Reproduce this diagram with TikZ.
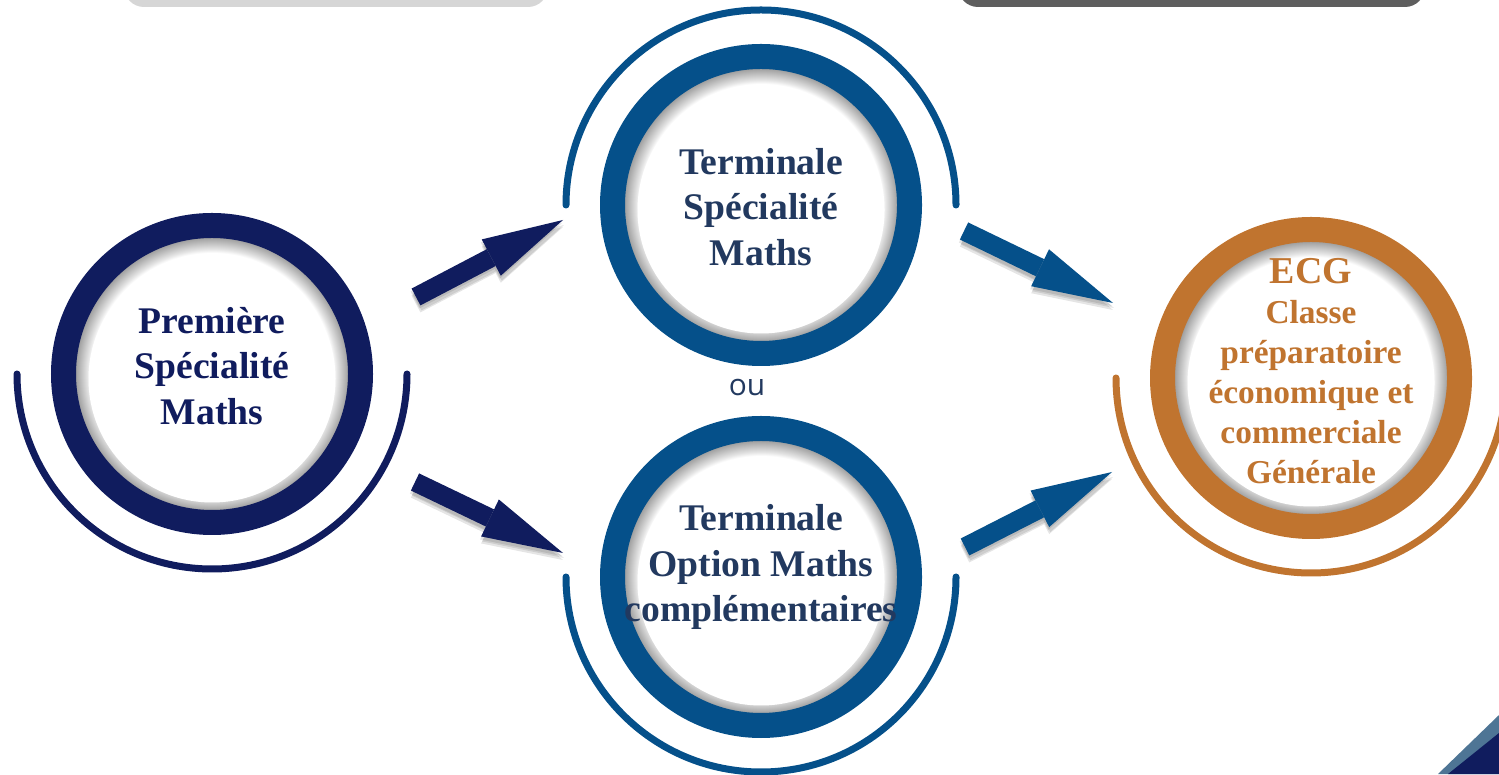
\documentclass[tikz,border=0pt]{standalone}
\usepackage{fontspec}
\setmainfont{Liberation Serif}
\newfontfamily\oufont{Open Sans}
\usetikzlibrary{arrows.meta}

\definecolor{navyprem}{HTML}{101C5E}
\definecolor{blueterm}{HTML}{05508A}
\definecolor{slateterm}{HTML}{22395F}
\definecolor{orangeecg}{HTML}{C0742F}
\definecolor{barlight}{HTML}{D6D6D6}
\definecolor{bardark}{HTML}{5E5E5E}
\definecolor{cornerblue}{HTML}{4E7595}

\pgfdeclareradialshading{innershadow}{\pgfpointorigin}{color(0bp)=(white); color(20.4bp)=(white); color(21bp)=(black!10); color(23bp)=(black!38); color(25bp)=(black!38); color(50bp)=(black!38)}

\begin{document}
\begin{tikzpicture}[
  ring/.style={circle, line width=0.25cm, minimum size=2.97cm, inner sep=0pt, shading=innershadow},
  swoop/.style={line width=0.07cm, line cap=round},
  disclabel/.style={align=center, font=\bfseries\fontsize{10.7}{13}\selectfont},
  blockarrow/.style={line width=0.19cm, -{Triangle[length=0.81cm, width=0.41cm, line width=0pt]}},
  arrowshadow/.style={blockarrow, black, opacity=0.1}
]
  \clip (0,0) rectangle (14.99,7.74);
  \fill[barlight, rounded corners=0.2cm] (1.24,7.67) rectangle (5.48,8.3);
  \fill[bardark, rounded corners=0.2cm] (9.58,7.67) rectangle (14.25,8.3);
  \fill[cornerblue] (14.38,0) -- (14.99,0.59) -- (14.99,0) -- cycle;
  \fill[navyprem] (14.48,0) -- (14.99,0.41) -- (14.99,0) -- cycle;

  % Première
  \node[ring, draw=navyprem] (prem) at (2.12,4.00) {};
  \fill[white] ([yshift=-0.05cm]prem.center) circle (1.235);
  \draw[swoop, navyprem] (prem.center) ++(180:1.95) arc[start angle=180, end angle=360, radius=1.95];
  \node[disclabel, text=navyprem] (premtxt) at (2.12,4.08) {Première\\Spécialité\\Maths};

  % Terminale spécialité
  \node[ring, draw=blueterm] (tspe) at (7.61,5.69) {};
  \fill[white] ([yshift=-0.05cm]tspe.center) circle (1.235);
  \draw[swoop, blueterm] (tspe.center) ++(180:1.95) arc[start angle=180, end angle=0, radius=1.95];
  \node[disclabel, text=slateterm] (tspetxt) at (7.61,5.67) {Terminale\\Spécialité\\Maths};

  % Terminale option
  \node[ring, draw=blueterm] (topt) at (7.61,1.97) {};
  \fill[white] ([yshift=-0.05cm]topt.center) circle (1.235);
  \draw[swoop, blueterm] (topt.center) ++(180:1.95) arc[start angle=180, end angle=360, radius=1.95];
  \node[disclabel, text=slateterm] (topttxt) at (7.61,2.07) {Terminale\\Option Maths\\complémentaires};

  \node[text=slateterm, font=\oufont\fontsize{8.5}{10}\selectfont] (ou) at (7.47,3.86) {ou};

  % ECG
  \node[ring, draw=orangeecg] (ecg) at (13.11,3.96) {};
  \fill[white] ([yshift=-0.05cm]ecg.center) circle (1.235);
  \draw[swoop, orangeecg] (ecg.center) ++(180:1.95) arc[start angle=180, end angle=360, radius=1.95];
  \node[disclabel, text=orangeecg, font=\bfseries\fontsize{9.5}{11.4}\selectfont] (ecgtxt) at (13.11,4.03)
    {{\fontsize{10.8}{12.2}\selectfont ECG}\\Classe\\préparatoire\\économique et\\commerciale\\Générale};

  % fleches
  \coordinate (a1s) at (4.16,4.77);
  \coordinate (a1e) at (5.63,5.54);
  \coordinate (a2s) at (4.15,2.92);
  \coordinate (a2e) at (5.63,2.21);
  \coordinate (a3s) at (9.64,5.43);
  \coordinate (a3e) at (11.13,4.71);
  \coordinate (a4s) at (9.65,2.27);
  \coordinate (a4e) at (11.12,3.02);
  \foreach \dx/\dy in {-0.01/-0.03, 0.01/-0.05, 0/-0.07} {
    \draw[arrowshadow, transform canvas={shift={(\dx,\dy)}}] (a1s) -- (a1e);
    \draw[arrowshadow, transform canvas={shift={(\dx,\dy)}}] (a2s) -- (a2e);
    \draw[arrowshadow, transform canvas={shift={(\dx,\dy)}}] (a3s) -- (a3e);
    \draw[arrowshadow, transform canvas={shift={(\dx,\dy)}}] (a4s) -- (a4e);
  }
  \draw[blockarrow, navyprem] (a1s) -- (a1e);
  \draw[blockarrow, navyprem] (a2s) -- (a2e);
  \draw[blockarrow, blueterm] (a3s) -- (a3e);
  \draw[blockarrow, blueterm] (a4s) -- (a4e);
\end{tikzpicture}
\end{document}
